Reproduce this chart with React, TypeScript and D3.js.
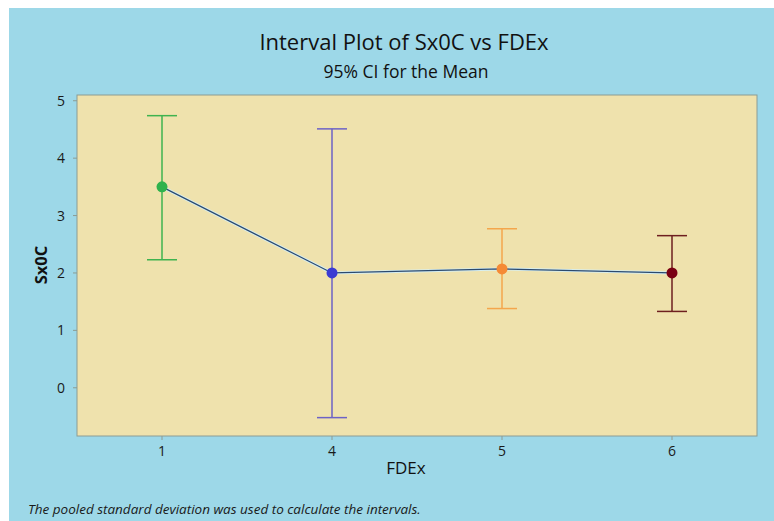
import React from "react";
import * as d3 from "d3";

const categories = ["1", "4", "5", "6"];
const means = [3.5, 2.0, 2.07, 2.0];
const lowers = [2.23, -0.52, 1.38, 1.33];
const uppers = [4.74, 4.51, 2.77, 2.65];
const barColors = ["#3fb34f", "#6d62c6", "#f4a64c", "#6e1f1f"];
const dotColors = ["#2fb24c", "#3b3bd2", "#f58a36", "#7a0012"];
const yTicks = [0, 1, 2, 3, 4, 5];

const W = 774, H = 521;
const L = 77, R = 757, T = 95, B = 436;

export default function App() {
  const x = d3.scalePoint<string>().domain(categories).range([L, R]).padding(0.5);
  const y = d3.scaleLinear().domain([-0.84, 5.1]).range([B, T]);
  const line = d3.line<number>().x((_, i) => x(categories[i])!).y(d => y(d));
  const font = "'Open Sans', 'Noto Sans', sans-serif";
  return (
    <svg width={W} height={H} style={{ position: "absolute", left: 0, top: 0 }}>
      <rect x={0} y={0} width={W} height={H} fill="#ffffff" />
      <rect x={9} y={8} width={W - 9} height={H - 8} fill="#9dd8e8" />
      <rect x={L} y={T} width={R - L} height={B - T} fill="#efe2ad" stroke="#8c9c94" strokeWidth={1} />
      <text x={404} y={50} textAnchor="middle" fontFamily={font} fontSize={22} fill="#111">Interval Plot of Sx0C vs FDEx</text>
      <text x={406} y={78} textAnchor="middle" fontFamily={font} fontSize={17.5} fill="#111">95% CI for the Mean</text>
      {yTicks.map(t => (
        <g key={t}>
          <line x1={L - 4} x2={L} y1={y(t)} y2={y(t)} stroke="#8c9c94" />
          <text x={L - 12} y={y(t) + 5} textAnchor="end" fontFamily={font} fontSize={14} fill="#1a1a1a">{t}</text>
        </g>
      ))}
      {categories.map(c => (
        <g key={c}>
          <line x1={x(c)} x2={x(c)} y1={B} y2={B + 4} stroke="#8c9c94" />
          <text x={x(c)} y={B + 20} textAnchor="middle" fontFamily={font} fontSize={14} fill="#1a1a1a">{c}</text>
        </g>
      ))}
      <text x={406} y={474} textAnchor="middle" fontFamily={font} fontSize={17} fill="#111">FDEx</text>
      <text transform={`translate(47,265) rotate(-90)`} textAnchor="middle" fontFamily={font} fontSize={16.5} fontWeight="bold" fill="#111">Sx0C</text>
      <text x={28} y={514} fontFamily={font} fontSize={13.5} fontStyle="italic" fill="#1a1a1a">The pooled standard deviation was used to calculate the intervals.</text>
      <path d={line(means) || ""} fill="none" stroke="#d6eef0" strokeWidth={3} />
      <path d={line(means) || ""} fill="none" stroke="#2c4a6e" strokeWidth={1.2} />
      {categories.map((c, i) => {
        const cx = x(c)!;
        return (
          <g key={c}>
            <line x1={cx} x2={cx} y1={y(lowers[i])} y2={y(uppers[i])} stroke={barColors[i]} strokeWidth={1.5} />
            <line x1={cx - 15} x2={cx + 15} y1={y(lowers[i])} y2={y(lowers[i])} stroke={barColors[i]} strokeWidth={1.5} />
            <line x1={cx - 15} x2={cx + 15} y1={y(uppers[i])} y2={y(uppers[i])} stroke={barColors[i]} strokeWidth={1.5} />
            <circle cx={cx} cy={y(means[i])} r={5.5} fill={dotColors[i]} />
          </g>
        );
      })}
    </svg>
  );
}
